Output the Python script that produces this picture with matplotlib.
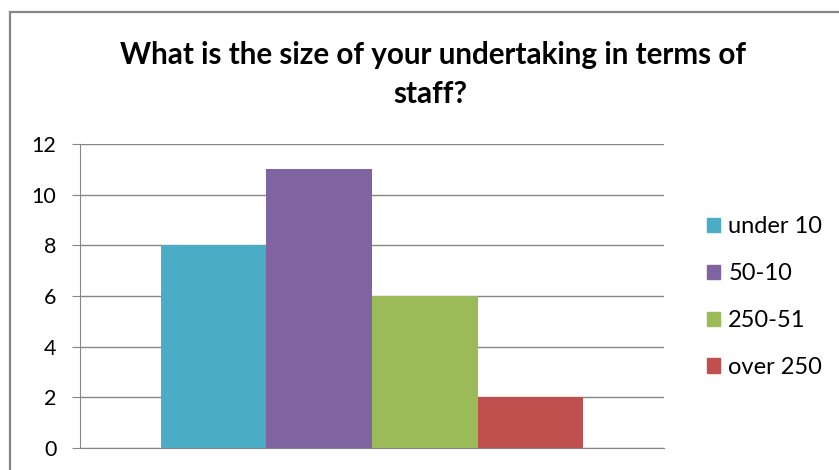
import matplotlib
matplotlib.use("Agg")
import matplotlib.pyplot as plt
from matplotlib.patches import Rectangle, Patch

# chart data
categories = ["under 10", "50-10", "250-51", "over 250"]
values = [8, 11, 6, 2]
colors = ["#4BACC6", "#8064A2", "#9BBB59", "#C0504D"]
yticks = [0, 2, 4, 6, 8, 10, 12]
title_lines = ["What is the size of your undertaking in terms of", "staff?"]

plt.rcParams['font.family'] = ['Lato', 'DejaVu Sans']

W, H = 839, 470
fig = plt.figure(figsize=(W / 100, H / 100), dpi=100)

# outer chart frame (cut off at right and bottom)
fig.patches.append(Rectangle((10 / W, -0.2), 1.2, 1.2 - 12 / H,
                             transform=fig.transFigure, fill=False,
                             edgecolor="#868686", linewidth=1.6))

ax = fig.add_axes([80 / W, 1 - 448 / H, (664 - 80) / W, (448 - 144) / H])

bw = 0.181
for i in range(len(values)):
    ax.bar((i - 1.5) * bw, values[i], width=bw, color=colors[i],
           label=categories[i], zorder=3)

ax.set_xlim(-0.5, 0.5)
ax.set_ylim(0, 12)
ax.set_yticks(yticks)
ax.set_xticks([])
ax.yaxis.grid(True, color="#868686", linewidth=1)
ax.set_axisbelow(True)
for s in ["top", "right"]:
    ax.spines[s].set_visible(False)
ax.spines["left"].set_color("#868686")
ax.spines["bottom"].set_color("#868686")
ax.tick_params(axis="y", direction="out", length=6, color="#868686",
               labelsize=15.5, pad=11)

# title, two lines as in the original
fig.text(433 / W, 1 - 64 / H, title_lines[0], ha="center", va="baseline",
         fontsize=21.3, fontweight="bold")
fig.text(430 / W, 1 - 103 / H, title_lines[1], ha="center", va="baseline",
         fontsize=21.3, fontweight="bold")

handles = [Patch(color=c) for c in colors]
fig.legend(handles, categories, loc="center left",
           bbox_to_anchor=(707 / W, 1 - 297 / H), frameon=False,
           borderaxespad=0, borderpad=0,
           fontsize=17, handlelength=0.55, handleheight=0.55,
           handletextpad=0.35, labelspacing=1.1)

fig.savefig("out.png", dpi=100)
